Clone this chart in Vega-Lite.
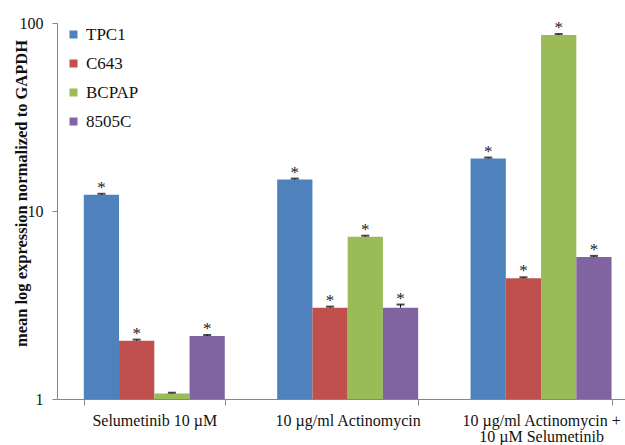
{
  "$schema": "https://vega.github.io/schema/vega-lite/v6.json",
  "width": 568,
  "height": 376,
  "autosize": {"type": "none"},
  "padding": {"left": 57, "top": 23, "right": 0, "bottom": 46},
  "background": "white",
  "config": {
    "view": {"stroke": null},
    "font": "Liberation Serif",
    "style": {"guide-label": {"font": "Liberation Serif"}},
    "axis": {"grid": false, "domainColor": "#868686", "tickColor": "#868686", "labelColor": "#111111", "labelFont": "Liberation Serif", "labelFontSize": 16, "titleFont": "Liberation Serif"},
    "legend": {"labelFont": "Liberation Serif"},
    "text": {"font": "Liberation Serif"}
  },
  "data": {
    "values": [
      {"treatment": "Selumetinib 10 µM", "cell": "TPC1", "value": 12.2, "err": 0.15, "star": "*"},
      {"treatment": "Selumetinib 10 µM", "cell": "C643", "value": 2.04, "err": 0.03, "star": "*"},
      {"treatment": "Selumetinib 10 µM", "cell": "BCPAP", "value": 1.07, "err": 0.01, "star": ""},
      {"treatment": "Selumetinib 10 µM", "cell": "8505C", "value": 2.16, "err": 0.03, "star": "*"},
      {"treatment": "10 µg/ml Actinomycin", "cell": "TPC1", "value": 14.7, "err": 0.18, "star": "*"},
      {"treatment": "10 µg/ml Actinomycin", "cell": "C643", "value": 3.06, "err": 0.04, "star": "*"},
      {"treatment": "10 µg/ml Actinomycin", "cell": "BCPAP", "value": 7.3, "err": 0.09, "star": "*"},
      {"treatment": "10 µg/ml Actinomycin", "cell": "8505C", "value": 3.06, "err": 0.12, "star": "*"},
      {"treatment": "10 µg/ml Actinomycin + 10 µM Selumetinib", "cell": "TPC1", "value": 19.0, "err": 0.25, "star": "*"},
      {"treatment": "10 µg/ml Actinomycin + 10 µM Selumetinib", "cell": "C643", "value": 4.39, "err": 0.05, "star": "*"},
      {"treatment": "10 µg/ml Actinomycin + 10 µM Selumetinib", "cell": "BCPAP", "value": 86.4, "err": 1.0, "star": "*"},
      {"treatment": "10 µg/ml Actinomycin + 10 µM Selumetinib", "cell": "8505C", "value": 5.7, "err": 0.07, "star": "*"}
    ]
  },
  "transform": [{"calculate": "datum.value + datum.err", "as": "hi"}],
  "encoding": {
    "x": {
      "field": "treatment", "type": "nominal",
      "sort": ["Selumetinib 10 µM", "10 µg/ml Actinomycin", "10 µg/ml Actinomycin + 10 µM Selumetinib"],
      "scale": {"paddingInner": 0.271, "paddingOuter": 0.104, "align": 0.666},
      "axis": {
        "title": null, "labelAngle": 0, "tickBand": "extent", "tickSize": 6, "labelPadding": 7, "labelLineHeight": 16,
        "labelExpr": "datum.label == '10 µg/ml Actinomycin + 10 µM Selumetinib' ? ['10 µg/ml Actinomycin +', '10 µM Selumetinib'] : datum.label"
      }
    },
    "xOffset": {"field": "cell", "type": "nominal", "sort": ["TPC1", "C643", "BCPAP", "8505C"], "scale": {"paddingInner": 0, "paddingOuter": 0}}
  },
  "layer": [
    {
      "mark": {"type": "bar"},
      "encoding": {
        "y": {
          "field": "value", "type": "quantitative",
          "scale": {"type": "log", "domain": [1, 100], "nice": false},
          "axis": {
            "values": [1, 10, 100], "format": "d", "tickSize": 5, "labelPadding": 9,
            "title": "mean log expression normalized  to GAPDH", "titleFontSize": 16.5, "titleFontWeight": "bold",
            "titleColor": "#111111", "titleX": -36, "titleY": 170, "titleBaseline": "middle", "titleAngle": -90
          }
        },
        "y2": {"datum": 1},
        "color": {
          "field": "cell", "type": "nominal",
          "scale": {"domain": ["TPC1", "C643", "BCPAP", "8505C"], "range": ["#4F81BD", "#C0504D", "#9BBB59", "#8064A2"]},
          "legend": {
            "title": null, "orient": "none", "legendX": 8, "legendY": 3, "padding": 0,
            "symbolType": "square", "symbolSize": 64, "symbolStrokeWidth": 0,
            "labelFont": "Times New Roman", "labelFontSize": 17, "labelColor": "#111111", "rowPadding": 11, "labelOffset": 4
          }
        }
      }
    },
    {
      "mark": {"type": "rule", "color": "black", "strokeWidth": 1},
      "encoding": {"y": {"field": "value", "type": "quantitative"}, "y2": {"field": "hi"}}
    },
    {
      "mark": {"type": "tick", "color": "black", "thickness": 2, "size": 8},
      "encoding": {"y": {"field": "hi", "type": "quantitative"}}
    },
    {
      "mark": {"type": "text", "color": "#222222", "fontSize": 17, "font": "Liberation Serif", "baseline": "alphabetic", "dy": -1},
      "encoding": {"y": {"field": "hi", "type": "quantitative"}, "text": {"field": "star"}}
    }
  ]
}
